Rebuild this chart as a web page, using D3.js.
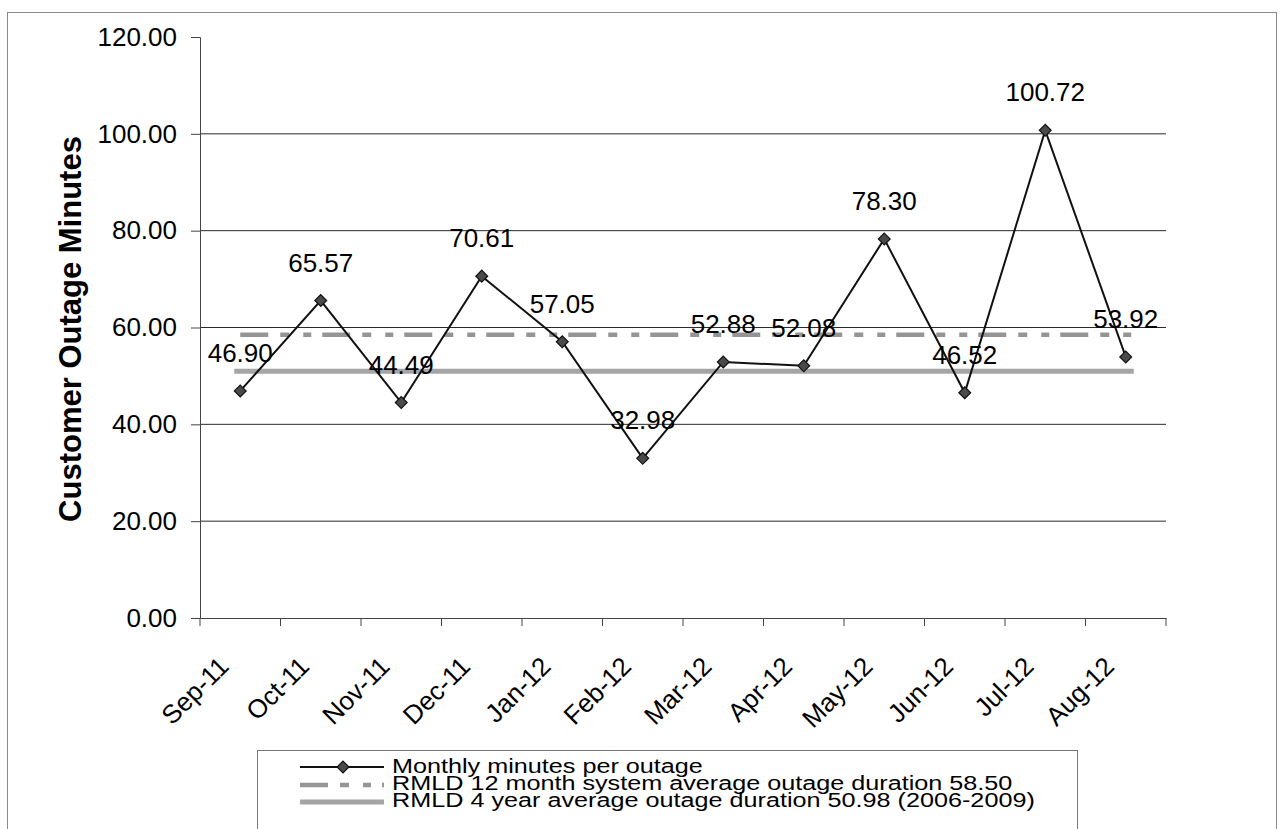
<!DOCTYPE html>
<html>
<head>
<meta charset="utf-8">
<script src="https://cdn.jsdelivr.net/npm/d3@7"></script>
<style>
  html, body { margin: 0; padding: 0; background: #fff; }
  svg { display: block; font-family: "Liberation Sans", Arial, sans-serif; }
</style>
</head>
<body>
<svg id="chart" width="1282" height="829"></svg>
<script>
// Monthly outage duration, Sep 2011 - Aug 2012
const months = ["Sep-11","Oct-11","Nov-11","Dec-11","Jan-12","Feb-12","Mar-12","Apr-12","May-12","Jun-12","Jul-12","Aug-12"];
const minutesPerOutage = [46.90, 65.57, 44.49, 70.61, 57.05, 32.98, 52.88, 52.08, 78.30, 46.52, 100.72, 53.92];
const avg12Month = 58.50;
const avg4Year = 50.98;
const yTicks = [0, 20, 40, 60, 80, 100, 120];
const legendLabels = [
  "Monthly minutes per outage",
  "RMLD 12 month system average outage duration 58.50",
  "RMLD 4 year average outage duration 50.98 (2006-2009)"
];

const svg = d3.select("#chart");

// outer chart frame
svg.append("rect")
  .attr("x", 7.5).attr("y", 12.5).attr("width", 1269).attr("height", 840)
  .attr("fill", "none").attr("stroke", "#8a8a8a").attr("stroke-width", 1);

const plot = { left: 200, right: 1166, top: 37, bottom: 618 };

const x = d3.scaleBand().domain(months).range([plot.left, plot.right]).padding(0);
const cx = d => x(d) + x.bandwidth() / 2;
const y = d3.scaleLinear().domain([0, 120]).range([plot.bottom, plot.top]);

// horizontal gridlines
svg.append("g")
  .selectAll("line")
  .data(yTicks.filter(t => t > 0 && t < 120))
  .join("line")
  .attr("x1", plot.left).attr("x2", plot.right)
  .attr("y1", d => y(d)).attr("y2", d => y(d))
  .attr("stroke", "#2a2a2a").attr("stroke-width", 1);

// y axis
const yAxis = svg.append("g")
  .attr("transform", `translate(${plot.left},0)`)
  .call(d3.axisLeft(y).tickValues(yTicks).tickFormat(d3.format(".2f")).tickSize(9).tickPadding(14));
yAxis.select(".domain").attr("stroke", "#444");
yAxis.selectAll(".tick line").attr("stroke", "#444");
yAxis.selectAll("text")
  .attr("font-size", 26).attr("fill", "#000")
  .attr("font-family", "Liberation Sans, Arial, sans-serif");

// x axis line with ticks at category boundaries
const xAxis = svg.append("g")
  .attr("transform", `translate(0,${plot.bottom})`)
  .call(d3.axisBottom(x).tickSize(0).tickFormat(""));
xAxis.select(".domain").attr("stroke", "#444");
const bounds = months.map(m => x(m)).concat([plot.right]);
svg.append("g").selectAll("line").data(bounds).join("line")
  .attr("x1", d => d).attr("x2", d => d)
  .attr("y1", plot.bottom).attr("y2", plot.bottom + 8)
  .attr("stroke", "#444");

// rotated month labels
svg.append("g").selectAll("text").data(months).join("text")
  .attr("transform", d => `translate(${cx(d) - 10},${plot.bottom + 50}) rotate(-45)`)
  .attr("text-anchor", "end")
  .attr("font-size", 26)
  .attr("fill", "#000")
  .text(d => d);

// y axis title
svg.append("text")
  .attr("transform", `translate(81,329) rotate(-90)`)
  .attr("text-anchor", "middle")
  .attr("font-size", 31)
  .attr("font-weight", "bold")
  .attr("fill", "#000")
  .text("Customer Outage Minutes");

// reference averages
const first = cx(months[0]), last = cx(months[months.length - 1]);
const dashPattern = "28,12,9,14,8,11";
svg.append("line")
  .attr("x1", first - 6).attr("x2", last + 8)
  .attr("y1", y(avg4Year)).attr("y2", y(avg4Year))
  .attr("stroke", "#a5a5a5").attr("stroke-width", 5);
svg.append("line")
  .attr("x1", first).attr("x2", last + 8)
  .attr("y1", y(avg12Month)).attr("y2", y(avg12Month))
  .attr("stroke", "#959595").attr("stroke-width", 4.5)
  .attr("stroke-dasharray", dashPattern);

// monthly series
const line = d3.line().x((d, i) => cx(months[i])).y(d => y(d));
svg.append("path")
  .datum(minutesPerOutage)
  .attr("d", line)
  .attr("fill", "none").attr("stroke", "#111").attr("stroke-width", 2);

const marker = d3.symbol().type(d3.symbolSquare).size(70);
svg.append("g").selectAll("path").data(minutesPerOutage).join("path")
  .attr("d", marker)
  .attr("transform", (d, i) => `translate(${cx(months[i])},${y(d)}) rotate(45)`)
  .attr("fill", "#4a4a4a").attr("stroke", "#111").attr("stroke-width", 1.2);

// value labels above each point
svg.append("g").selectAll("text").data(minutesPerOutage).join("text")
  .attr("x", (d, i) => cx(months[i]))
  .attr("y", d => y(d) - 29)
  .attr("text-anchor", "middle")
  .attr("font-size", 26)
  .attr("fill", "#000")
  .text(d => d3.format(".2f")(d));

// legend
const lg = svg.append("g");
lg.append("rect")
  .attr("x", 257.5).attr("y", 750.5).attr("width", 820).attr("height", 120)
  .attr("fill", "#fff").attr("stroke", "#777").attr("stroke-width", 1);
const rowY = [767, 784, 801];
const lx1 = 300, lx2 = 384;
// row 1: series line with marker
lg.append("line").attr("x1", lx1).attr("x2", lx2).attr("y1", rowY[0]).attr("y2", rowY[0])
  .attr("stroke", "#111").attr("stroke-width", 2);
lg.append("path").attr("d", marker)
  .attr("transform", `translate(${(lx1 + lx2) / 2 + 1},${rowY[0]}) rotate(45)`)
  .attr("fill", "#4a4a4a").attr("stroke", "#111").attr("stroke-width", 1.2);
// row 2: dashed average
lg.append("line").attr("x1", lx1).attr("x2", lx2).attr("y1", rowY[1] + 1).attr("y2", rowY[1] + 1)
  .attr("stroke", "#959595").attr("stroke-width", 4.5).attr("stroke-dasharray", dashPattern);
// row 3: solid average
lg.append("line").attr("x1", lx1).attr("x2", lx2).attr("y1", rowY[2] + 1).attr("y2", rowY[2] + 1)
  .attr("stroke", "#a5a5a5").attr("stroke-width", 5);
// legend labels: wide set, tightly stacked
lg.selectAll("text.lbl").data(legendLabels).join("text")
  .attr("class", "lbl")
  .attr("transform", (d, i) => `translate(392,${rowY[i] + 6}) scale(1.2,1)`)
  .attr("font-size", 21)
  .attr("fill", "#000")
  .text(d => d);
</script>
</body>
</html>
